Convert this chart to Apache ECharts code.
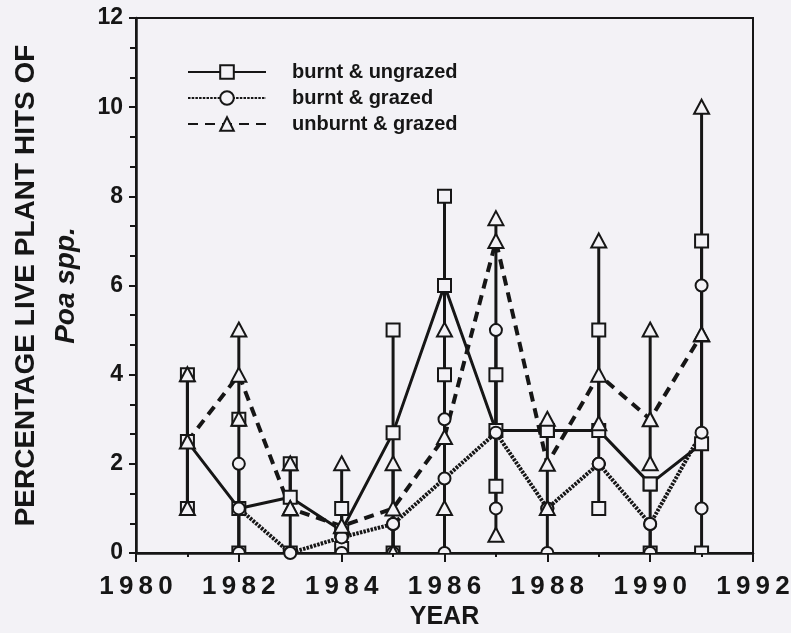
<!DOCTYPE html>
<html>
<head>
<meta charset="utf-8">
<script src="https://cdn.jsdelivr.net/npm/echarts@6/dist/echarts.min.js"></script>
<style>
  html, body { margin: 0; padding: 0; background: #f3f2f6; }
  #chart { width: 791px; height: 633px; }
</style>
</head>
<body>
<div id="chart"></div>
<script>
const years = [1981, 1982, 1983, 1984, 1985, 1986, 1987, 1988, 1989, 1990, 1991];

// burnt & ungrazed (squares)
const buMean = [2.5, 1.0, 1.25, 0.5, 2.7, 6.0, 2.75, 2.75, 2.75, 1.55, 2.45];
const buHigh = [4, 3, 2, 1, 5, 8, 4, 2.75, 5, 1.55, 7];
const buLow = [1, 0, 0, 0.1, 0, 4, 1.5, 2.75, 1, 0, 0];

// burnt & grazed (circles)
const bgMean = [null, 1.0, 0, 0.35, 0.65, 1.67, 2.7, 1.0, 2.0, 0.65, 2.7];
const bgHigh = [null, 2, 0, 0.35, 0.65, 3, 5, 1, 2, 0.65, 6];
const bgLow = [null, 0, 0, 0, 0, 0, 1, 0, 2, 0, 1];

// unburnt & grazed (triangles)
const ugMean = [2.5, 4.0, 1.0, 0.6, 1.0, 2.6, 7.0, 2.0, 4.0, 3.0, 4.9];
const ugHigh = [4, 5, 2, 2, 2, 5, 7.5, 3, 7, 5, 10];
const ugLow = [1, 3, 1, 0.6, 0, 1, 0.4, 1, 2.9, 2, 4.9];

const names = ['burnt & ungrazed', 'burnt & grazed', 'unburnt & grazed'];

const INK = '#161616';
const BG = '#f3f2f6';
const FONT = 'Liberation Sans';

function pairs(vals) {
  return years.map((y, i) => [y, vals[i]]);
}

function rangeData(low, high) {
  return years.map((y, i) => [y, low[i], high[i]]).filter((d) => d[1] != null);
}

// vertical range bars
function barSeries(low, high) {
  return {
    type: 'custom',
    silent: true,
    z: 1,
    clip: true,
    data: rangeData(low, high),
    renderItem: (params, api) => {
      const a = api.coord([api.value(0), api.value(1)]);
      const b = api.coord([api.value(0), api.value(2)]);
      return {
        type: 'line',
        shape: { x1: a[0], y1: a[1], x2: b[0], y2: b[1] },
        style: { stroke: INK, lineWidth: 3 }
      };
    }
  };
}

function markerShape(kind, c) {
  const style = { fill: BG, stroke: INK, lineWidth: 2 };
  if (kind === 'rect') {
    return { type: 'rect', shape: { x: c[0] - 6.5, y: c[1] - 6.5, width: 13, height: 13 }, style };
  }
  if (kind === 'circle') {
    return { type: 'circle', shape: { cx: c[0], cy: c[1], r: 6 }, style };
  }
  return {
    type: 'polygon',
    shape: { points: [[c[0], c[1] - 7.5], [c[0] + 7.5, c[1] + 6.5], [c[0] - 7.5, c[1] + 6.5]] },
    style
  };
}

// min / max markers at the ends of the bars
function endSeries(kind, low, high) {
  return {
    type: 'custom',
    silent: true,
    z: 3,
    clip: true,
    data: rangeData(low, high),
    renderItem: (params, api) => {
      const x = api.value(0);
      return {
        type: 'group',
        children: [
          markerShape(kind, api.coord([x, api.value(1)])),
          markerShape(kind, api.coord([x, api.value(2)]))
        ]
      };
    }
  };
}

function meanSeries(name, mean, symbol, size, lineType, width) {
  return {
    name,
    type: 'line',
    z: 2,
    data: pairs(mean),
    symbol,
    symbolSize: size,
    showAllSymbol: true,
    connectNulls: false,
    lineStyle: { color: INK, width, type: lineType },
    itemStyle: { color: BG, borderColor: INK, borderWidth: 2 },
    emphasis: { disabled: true }
  };
}

const chart = echarts.init(document.getElementById('chart'));

chart.setOption({
  backgroundColor: BG,
  animation: false,
  textStyle: { fontFamily: FONT, color: INK },
  grid: {
    left: 136, right: 38, top: 18, bottom: 80,
    containLabel: false,
    outerBoundsMode: 'none',
    show: true, borderColor: INK, borderWidth: 2, backgroundColor: 'transparent'
  },
  legend: {
    data: names,
    orient: 'vertical',
    left: 187,
    top: 62,
    padding: 0,
    itemWidth: 78,
    itemHeight: 17,
    itemGap: 6,
    selectedMode: false,
    textStyle: { fontFamily: FONT, fontSize: 20, fontWeight: 'bold', color: INK, padding: [0, 0, 0, 21] }
  },
  xAxis: {
    type: 'value',
    min: 1980,
    max: 1992,
    interval: 2,
    axisLine: { show: true, onZero: false, lineStyle: { color: INK, width: 2.5 } },
    axisTick: { show: true, length: 9, lineStyle: { color: INK, width: 2 } },
    minorTick: { show: true, splitNumber: 2, length: 4, lineStyle: { color: INK, width: 2 } },
    splitLine: { show: false },
    axisLabel: {
      fontFamily: FONT, fontSize: 26, fontWeight: 'bold', color: INK, margin: 21,
      formatter: (v) => String(v).split('').join('\u2009')
    },
    name: 'YEAR',
    nameLocation: 'middle',
    nameGap: 43,
    nameTextStyle: { fontFamily: FONT, fontSize: 25, fontWeight: 'bold', color: INK }
  },
  yAxis: {
    type: 'value',
    min: 0,
    max: 12,
    interval: 2,
    axisLine: { show: true, onZero: false, lineStyle: { color: INK, width: 2.5 } },
    axisTick: { show: true, length: 7, lineStyle: { color: INK, width: 2 } },
    minorTick: { show: true, splitNumber: 3, length: 6, lineStyle: { color: INK, width: 2 } },
    splitLine: { show: false },
    axisLabel: { fontFamily: FONT, fontSize: 23, fontWeight: 'bold', color: INK, margin: 13 },
    name: 'PERCENTAGE LIVE PLANT HITS OF\n{i|Poa spp.}',
    nameLocation: 'middle',
    nameRotate: 90,
    nameGap: 50,
    nameTextStyle: {
      fontFamily: FONT, fontSize: 28, fontWeight: 'bold', color: INK, lineHeight: 40,
      rich: { i: { fontFamily: FONT, fontSize: 28, fontWeight: 'bold', fontStyle: 'italic', color: INK, lineHeight: 40 } }
    }
  },
  series: [
    barSeries(buLow, buHigh),
    barSeries(bgLow, bgHigh),
    barSeries(ugLow, ugHigh),
    meanSeries(names[0], buMean, 'rect', 13, 'solid', 3),
    meanSeries(names[1], bgMean, 'circle', 12, [2.5, 1.2], 4),
    meanSeries(names[2], ugMean, 'triangle', [15, 14], [10, 7], 4),
    endSeries('rect', buLow, buHigh),
    endSeries('circle', bgLow, bgHigh),
    endSeries('triangle', ugLow, ugHigh)
  ]
});
</script>
</body>
</html>
